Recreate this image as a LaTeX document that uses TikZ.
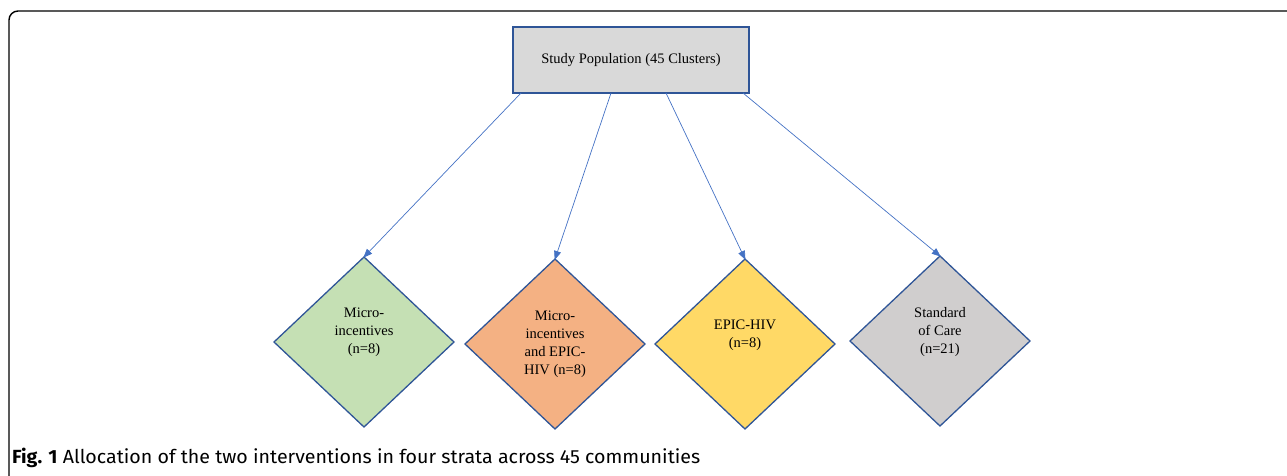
\documentclass[tikz,border=0pt]{standalone}
\usepackage{fontspec}
\setmainfont{Liberation Serif}
\newfontfamily\capfont{Fira Sans}
\usetikzlibrary{shapes.geometric,arrows.meta}
\definecolor{frameblue}{HTML}{2F5597}
\definecolor{arrblue}{HTML}{4472C4}
\definecolor{boxgray}{HTML}{D9D9D9}
\definecolor{cgreen}{HTML}{C5E0B4}
\definecolor{corange}{HTML}{F4B183}
\definecolor{cyellow}{HTML}{FFD966}
\definecolor{cgray}{HTML}{D0CECE}
\tikzset{
  popbox/.style={draw=frameblue, line width=1.6pt, fill=boxgray, minimum width=236pt, minimum height=66pt, inner sep=0pt, outer sep=0pt, font=\fontsize{14.5}{18}\selectfont},
  stratum/.style={diamond, draw=frameblue, line width=1.3pt, minimum width=180pt, minimum height=170pt, inner sep=0pt, outer sep=0pt, align=center, font=\fontsize{14.5}{18}\selectfont},
  link/.style={draw=arrblue, line width=0.7pt, -{Triangle[length=9pt,width=7pt]}, shorten >=-1pt},
}
\begin{document}
\begin{tikzpicture}[x=1pt,y=-1pt]
\useasboundingbox (0,0) rectangle (1287,476);
\draw[line width=1.4pt, rounded corners=9pt] (9,500) -- (9,11) -- (1310,11);
\node[popbox] (pop) at (631,60) {Study Population (45 Clusters)};
\node[stratum, fill=cgreen] (d1) at (364,342) {Micro-\\incentives\\(n=8)\\[4pt]};
\node[stratum, fill=corange] (d2) at (555,344) {Micro-\\incentives\\and EPIC-\\HIV (n=8)};
\node[stratum, fill=cyellow] (d3) at (745,344) {EPIC-HIV\\(n=8)\\[2pt]};
\node[stratum, fill=cgray] (d4) at (940,341) {Standard\\of Care\\(n=21)\\[4pt]};
\draw[link] ([xshift=8pt]pop.south west) -- (d1.north);
\draw[link] ([xshift=98pt]pop.south west) -- (d2.north);
\draw[link] ([xshift=153pt]pop.south west) -- (d3.north);
\draw[link] ([xshift=230pt]pop.south west) -- (d4.north);
\node[anchor=base west, inner sep=0pt, font=\capfont\fontsize{19}{23}\selectfont] (cap) at (12,463)
  {\resizebox{688pt}{\height}{\textbf{Fig. 1} Allocation of the two interventions in four strata across 45 communities}};
\end{tikzpicture}
\end{document}
